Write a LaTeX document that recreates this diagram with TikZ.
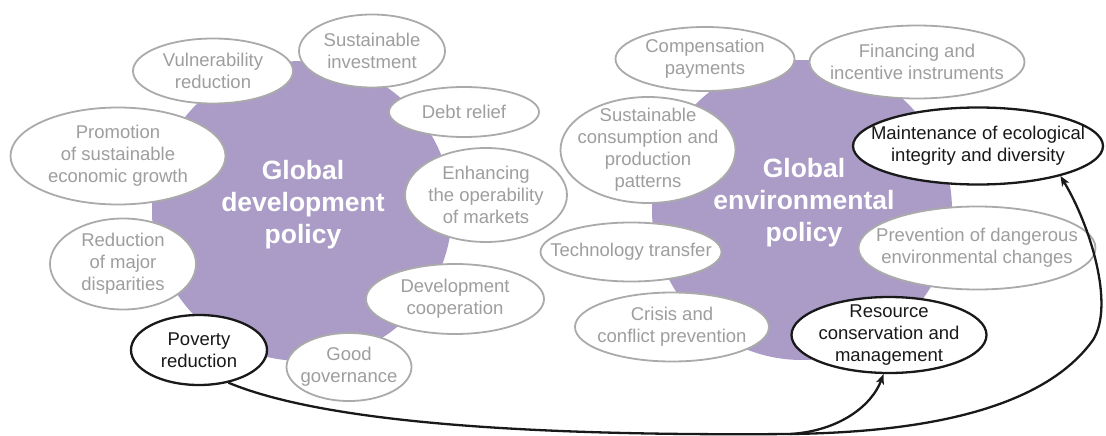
\documentclass[tikz,border=0pt]{standalone}
\usepackage{fontspec}
\setmainfont{Liberation Sans}
\usetikzlibrary{shapes.geometric,arrows.meta}
\definecolor{purp}{RGB}{170,156,198}
\definecolor{bubline}{RGB}{170,170,170}
\definecolor{bubtext}{RGB}{158,158,158}
\definecolor{ink}{RGB}{25,25,25}
\tikzset{
  hub/.style={circle, fill=purp, minimum size=300pt, inner sep=0pt},
  hubtext/.style={align=center, text=white, font=\fontsize{26.5}{32}\selectfont\bfseries},
  bub/.style={ellipse, draw=bubline, line width=1.8pt, fill=white, inner sep=0pt},
  keybub/.style={ellipse, draw=ink, line width=2.3pt, fill=white, inner sep=0pt},
  bubtxt/.style={align=center, text=bubtext, inner sep=0pt, font=\fontsize{18.5}{22}\selectfont},
  keytxt/.style={align=center, text=ink, inner sep=0pt, font=\fontsize{18.5}{22}\selectfont},
  conn/.style={draw=ink, line width=2.3pt, -{Stealth[length=10pt,width=8pt,inset=2.5pt]}},
  plainconn/.style={draw=ink, line width=2.3pt}
}
\newcommand{\bubble}[6]{%
  \node[#1, minimum width=#4pt, minimum height=#5pt] (#2) at #3 {};
  \node[#1txt] (#2t) at (#2.center) {#6};
}
\begin{document}
\begin{tikzpicture}[x=1pt,y=-1pt]
\useasboundingbox (0,0) rectangle (1106,436);
% hubs
\node[hub] (gdp) at (302,211) {};
\node[hub] (gep) at (802,210) {};
% left bubbles
\node[bub, minimum width=160pt, minimum height=65pt] (vul) at (213,71) {};
\node[bubtxt] (vult) at (vul.center) {Vulnerability\\reduction};
\node[bub, minimum width=146pt, minimum height=73pt] (sinv) at (372,51) {};
\node[bubtxt] (sinvt) at (sinv.center) {Sustainable\\investment};
\node[bub, minimum width=150pt, minimum height=50pt] (debt) at (464,112) {};
\node[bubtxt] (debtt) at (debt.center) {Debt relief};
\node[bub, minimum width=215pt, minimum height=97pt] (prom) at (118,156) {};
\node[bubtxt] (promt) at (prom.center) {Promotion\\of sustainable\\economic growth};
\node[bub, minimum width=162pt, minimum height=94pt] (enh) at (486,195) {};
\node[bubtxt] (enht) at (enh.center) {Enhancing\\the operability\\of markets};
\node[bub, minimum width=146pt, minimum height=91pt] (red) at (123,264) {};
\node[bubtxt] (redt) at (red.center) {Reduction\\of major\\disparities};
\node[bub, minimum width=178pt, minimum height=70pt] (dev) at (455,299) {};
\node[bubtxt] (devt) at (dev.center) {Development\\cooperation};
\node[bub, minimum width=125pt, minimum height=68pt] (gov) at (349,367) {};
\node[bubtxt] (govt) at (gov.center) {Good\\governance};
\node[keybub, minimum width=136pt, minimum height=70pt] (pov) at (199,350) {};
\node[keytxt] (povt) at (pov.center) {Poverty\\reduction};
% right bubbles
\node[bub, minimum width=179pt, minimum height=64pt] (comp) at (705,59) {};
\node[bubtxt] (compt) at (comp.center) {Compensation\\payments};
\node[bub, minimum width=215pt, minimum height=73pt] (fin) at (917,62) {};
\node[bubtxt] (fint) at (fin.center) {Financing and\\incentive instruments};
\node[bub, minimum width=175pt, minimum height=106pt] (scp) at (648,150) {};
\node[bubtxt] (scpt) at (scp.center) {Sustainable\\consumption and\\production\\patterns};
\node[keybub, minimum width=250pt, minimum height=77pt] (maint) at (978,146) {};
\node[keytxt] (maintt) at (maint.center) {Maintenance of ecological\\integrity and diversity};
\node[bub, minimum width=181pt, minimum height=59pt] (tech) at (631,252) {};
\node[bubtxt] (techt) at (tech.center) {Technology transfer};
\node[bub, minimum width=237pt, minimum height=83pt] (prev) at (977,248) {};
\node[bubtxt] (prevt) at (prev.center) {Prevention of dangerous\\environmental changes};
\node[bub, minimum width=194pt, minimum height=69pt] (cri) at (672,327) {};
\node[bubtxt] (crit) at (cri.center) {Crisis and\\conflict prevention};
\node[keybub, minimum width=195pt, minimum height=76pt] (res) at (889,335) {};
\node[keytxt] (rest) at (res.center) {Resource\\conservation and\\management};
% hub titles
\node[hubtext] (gdpt) at (303,205) {Global\\development\\policy};
\node[hubtext] (gept) at (804,203) {Global\\environmental\\policy};
% connectors
\coordinate (m) at (790,434);
\coordinate (bend) at (1093,340);
\draw[conn] (pov.-48) .. controls (330,425) and (550,436) .. (m)
  .. controls (840,431) and (872,405) .. (res.-98);
\draw[conn] (m) .. controls (950,432) and (1050,400) .. (bend)
  .. controls (1115,305) and (1090,225) .. (maint.-20);
\end{tikzpicture}
\end{document}
